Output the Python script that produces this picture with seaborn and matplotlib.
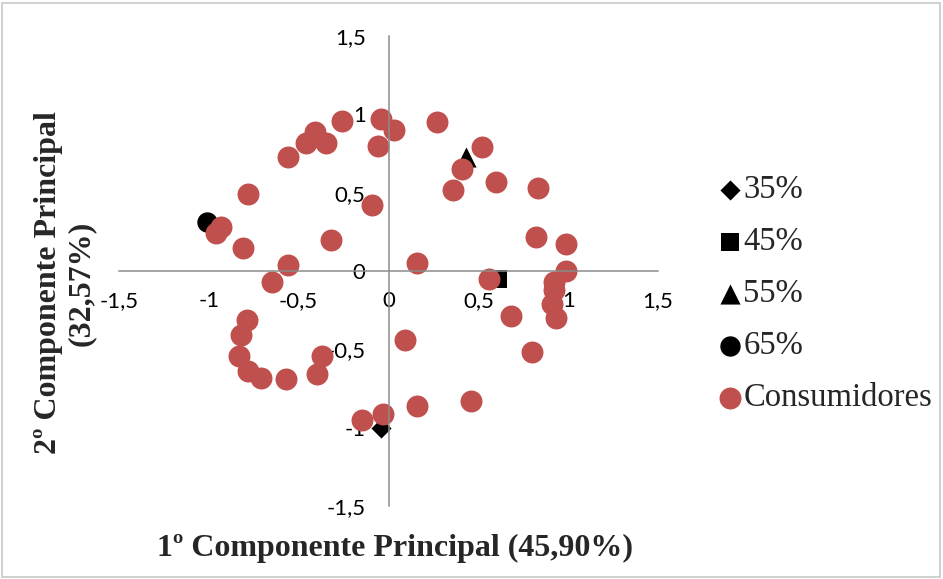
import matplotlib
matplotlib.use('Agg')
import matplotlib.pyplot as plt
import pandas as pd
import seaborn as sns
from matplotlib.patches import Rectangle

# === dados ===
cons_x = [-0.04, 0.03, -0.06, -0.26, -0.41, -0.46, -0.35, -0.56, -0.78, -0.09,
          -0.93, -0.96, -0.81, -0.32, -0.56, -0.65, 0.27, 0.52, 0.41, 0.60,
          0.36, 0.83, 0.82, 0.99, 0.16, 0.99, 0.56, 0.92, 0.92, 0.91,
          0.93, 0.68, 0.09, 0.80, 0.16, 0.46, -0.03, -0.79, -0.82, -0.83,
          -0.78, -0.71, -0.57, -0.40, -0.37, -0.15]
cons_y = [0.97, 0.90, 0.80, 0.96, 0.89, 0.82, 0.82, 0.73, 0.49, 0.42,
          0.28, 0.24, 0.15, 0.20, 0.04, -0.07, 0.95, 0.79, 0.65, 0.57,
          0.52, 0.53, 0.22, 0.17, 0.05, 0.00, -0.05, -0.07, -0.12, -0.21,
          -0.30, -0.29, -0.44, -0.52, -0.86, -0.83, -0.91, -0.31, -0.41, -0.54,
          -0.64, -0.68, -0.69, -0.66, -0.54, -0.95]

ref_names = ['35%', '45%', '55%', '65%']
ref_x = [-0.04, 0.61, 0.43, -1.01]
ref_y = [-1.00, -0.05, 0.73, 0.31]

ticks = [-1.5, -1, -0.5, 0, 0.5, 1, 1.5]
tick_labels = ['-1,5', '-1', '-0,5', '0', '0,5', '1', '1,5']

x_label = '1º Componente Principal (45,90%)'
y_label = '2º Componente Principal\n(32,57%)'

ref_markers = {'35%': 'D', '45%': 's', '55%': '^', '65%': 'o'}
ref_sizes = {'35%': 105, '45%': 175, '55%': 210, '65%': 215}
red = '#C0504D'
axis_gray = '#8C8C8C'

sns.set_style('white')
plt.rcParams['font.family'] = ['Liberation Serif', 'DejaVu Serif']

fig = plt.figure(figsize=(9.43, 5.79), dpi=100)
ax = fig.add_axes([119 / 943, 1 - 506 / 579, 539 / 943, 470 / 579])

# séries de referência (pretas) primeiro, consumidores por cima
for name, x, y in zip(ref_names, ref_x, ref_y):
    d = pd.DataFrame({'x': [x], 'y': [y]})
    sns.scatterplot(data=d, x='x', y='y', ax=ax, marker=ref_markers[name],
                    s=ref_sizes[name], color='black', linewidth=0, label=name)

df = pd.DataFrame({'x': cons_x, 'y': cons_y})
sns.scatterplot(data=df, x='x', y='y', ax=ax, marker='o', s=250,
                color=red, linewidth=0, label='Consumidores')

# eixos cruzando na origem (antes dos ticks: set_position reinicia os ticks)
for side in ['top', 'right']:
    ax.spines[side].set_visible(False)
for side in ['left', 'bottom']:
    ax.spines[side].set_position(('data', 0))
    ax.spines[side].set_color(axis_gray)
    ax.spines[side].set_linewidth(1.1)

ax.set_xlim(-1.5, 1.5)
ax.set_ylim(-1.5, 1.5)
ax.set_xticks(ticks)
ax.set_yticks(ticks)
ax.set_xticklabels(tick_labels, family='Lato', fontsize=16)
ax.set_yticklabels(tick_labels, family='Lato', fontsize=16)
ax.set_xlabel('')
ax.set_ylabel('')
ax.tick_params(axis='both', direction='out', length=6.5, width=1.1,
               color=axis_gray, labelcolor='black')
ax.tick_params(axis='x', pad=8)
ax.tick_params(axis='y', pad=10)
ax.set_facecolor('none')
ax.grid(False)

ax.get_legend().remove()
handles, labels = ax.get_legend_handles_labels()
fig.legend(handles, labels, loc='center left', bbox_to_anchor=(714 / 943, 1 - 294 / 579),
           frameon=False, fontsize=23.5, handletextpad=-0.1, labelspacing=0.66,
           borderaxespad=0, borderpad=0, handlelength=1.0)

fig.text(395 / 943, 1 - 548 / 579, x_label, ha='center', va='center',
         fontsize=23, fontweight='bold')
fig.text(65 / 943, 1 - 283 / 579, y_label, ha='center', va='center',
         rotation=90, fontsize=23, fontweight='bold', multialignment='center',
         linespacing=1.2)

fig.patches.append(Rectangle((2 / 943, 2 / 579), 938 / 943, 574 / 579,
                             transform=fig.transFigure, fill=False,
                             edgecolor='#C8C8C8', linewidth=1.2))

fig.savefig('out.png', dpi=100)
